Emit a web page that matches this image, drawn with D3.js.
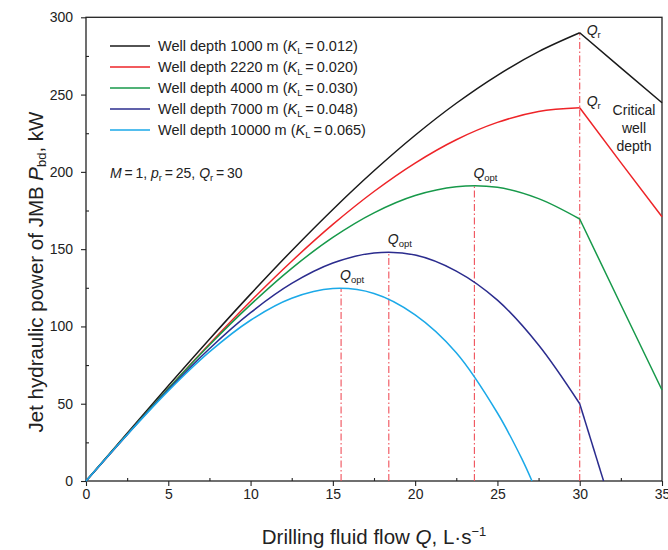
<!DOCTYPE html>
<html>
<head>
<meta charset="utf-8">
<script src="https://cdn.jsdelivr.net/npm/d3@7"></script>
<style>
  body { margin: 0; background: #fff; }
  svg { font-family: "Liberation Sans", Arial, sans-serif; }
</style>
</head>
<body>
<div id="chart"></div>
<script>
// values (Q in L/s, P in kW)
var flowGrid = [0, 2.5, 5, 7.5, 10, 12.5, 15, 17.5, 20, 22.5, 25, 27.5, 30];
var power1000 = [0, 30.9, 61.6, 91.7, 120.9, 149.0, 175.7, 200.7, 223.7, 244.4, 262.5, 277.8, 290.0];
var power2220 = [0, 30.1, 59.8, 88.7, 116.3, 142.2, 166.0, 187.3, 205.7, 220.8, 232.0, 239.1, 241.5];
var power4000 = [0, 30.2, 59.8, 88.0, 114.1, 137.6, 157.6, 173.5, 184.7, 190.4, 190.0, 182.7, 169.5];
var power7000 = [0, 30.0, 59.0, 85.6, 108.9, 127.8, 141.0, 147.5, 146.2, 135.8, 117.0, 88.0, 50.0];

var flowShallowest = [0, 2.5, 5, 7.5, 10, 12.5, 15, 17.5, 20, 22.5, 25, 26.5, 27.1];
var power10000 = [0, 29.9, 58.3, 83.5, 104.0, 118.2, 124.5, 121.3, 107.5, 83.0, 44.0, 14.0, 0];

// after the rated flow Q_r = 30
var flowTail = [30, 32.5, 35];
var tail1000 = [290.0, 267.3, 244.7];
var tail2220 = [241.5, 206.0, 171.0];
var tail4000 = [169.5, 114.0, 58.9];
var flowTail7000 = [30, 31.45];
var tail7000 = [50.0, 0];

var depths = ["1000", "2220", "4000", "7000", "10000"];
var kValues = ["0.012", "0.020", "0.030", "0.048", "0.065"];
var colors = ["#1a1a1a", "#ee2428", "#17994a", "#2b2c8e", "#1ba9e8"];

// optimum flows (4000, 7000, 10000 m) and their peak powers
var qOpt = [23.6, 18.4, 15.5];
var pOpt = [191.0, 148.0, 124.7];
var qRated = 30;
var pRated = 290.0;

var xTicks = [0, 5, 10, 15, 20, 25, 30, 35];
var yTicks = [0, 50, 100, 150, 200, 250, 300];

var width = 668, height = 550;
var svg = d3.select('#chart').append('svg')
  .attr('width', width)
  .attr('height', height);

var x = d3.scaleLinear().domain([0, 35]).range([86, 662]);
var y = d3.scaleLinear().domain([0, 300]).range([481, 17.3]);

function zip(a, b) {
  return a.map(function(v, i) { return [v, b[i]]; });
}

var series = [
  { body: zip(flowGrid, power1000), tail: zip(flowTail, tail1000) },
  { body: zip(flowGrid, power2220), tail: zip(flowTail, tail2220) },
  { body: zip(flowGrid, power4000), tail: zip(flowTail, tail4000) },
  { body: zip(flowGrid, power7000), tail: zip(flowTail7000, tail7000) },
  { body: zip(flowShallowest, power10000), tail: [] }
];

// axes: majors outside, minors inside
svg.append('g')
  .attr('transform', 'translate(0,' + y(0) + ')')
  .call(d3.axisBottom(x).tickValues(xTicks).tickSize(5).tickPadding(3).tickFormat(d3.format('d')));
svg.append('g')
  .attr('transform', 'translate(0,' + y(0) + ')')
  .call(d3.axisBottom(x).tickValues(d3.range(2.5, 35, 5)).tickSize(-3).tickFormat(''));
svg.append('g')
  .attr('transform', 'translate(' + x(0) + ',0)')
  .call(d3.axisLeft(y).tickValues(yTicks).tickSize(5).tickPadding(8));
svg.append('g')
  .attr('transform', 'translate(' + x(0) + ',0)')
  .call(d3.axisLeft(y).tickValues(d3.range(25, 300, 50)).tickSize(-3).tickFormat(''));

svg.selectAll('.domain').remove();
svg.selectAll('.tick line').attr('stroke', '#222').attr('stroke-width', 1.1);
svg.selectAll('.tick text').attr('font-size', 14).attr('fill', '#222')
  .attr('font-family', '"Liberation Sans", Arial, sans-serif');

svg.append('rect')
  .attr('x', x(0)).attr('y', y(300))
  .attr('width', x(35) - x(0)).attr('height', y(0) - y(300))
  .attr('fill', 'none').attr('stroke', '#222').attr('stroke-width', 1.3);

// dash-dot guides
var guide = svg.append('g')
  .attr('stroke', '#f0505a')
  .attr('stroke-width', 1.1)
  .attr('stroke-dasharray', '7,2.5,1.5,2.5');
qOpt.forEach(function(q, i) {
  guide.append('line')
    .attr('x1', x(q)).attr('x2', x(q))
    .attr('y1', y(0)).attr('y2', y(pOpt[i]));
});
guide.append('line')
  .attr('x1', x(qRated)).attr('x2', x(qRated))
  .attr('y1', y(0)).attr('y2', y(pRated));

var smooth = d3.line()
  .x(function(d) { return x(d[0]); })
  .y(function(d) { return y(d[1]); })
  .curve(d3.curveCatmullRom.alpha(0.5));
var straight = d3.line()
  .x(function(d) { return x(d[0]); })
  .y(function(d) { return y(d[1]); });

series.forEach(function(s, i) {
  svg.append('path')
    .attr('d', smooth(s.body))
    .attr('fill', 'none')
    .attr('stroke', colors[i])
    .attr('stroke-width', 1.5);
  if (s.tail.length) {
    svg.append('path')
      .attr('d', straight(s.tail))
      .attr('fill', 'none')
      .attr('stroke', colors[i])
      .attr('stroke-width', 1.5);
  }
});

// Q labels
function qLabel(px, py, sub) {
  var t = svg.append('text')
    .attr('x', px).attr('y', py)
    .attr('font-size', 14).attr('fill', '#222');
  t.append('tspan').attr('font-style', 'italic').text('Q');
  t.append('tspan').attr('font-size', 9.5).attr('dy', 3).text(sub);
}
qOpt.forEach(function(q, i) {
  qLabel(x(q) - 1, y(pOpt[i]) - 8, 'opt');
});
qLabel(x(qRated) + 7, y(pRated) + 2, 'r');
qLabel(x(qRated) + 7, y(power2220[power2220.length - 1]) - 2, 'r');

var crit = svg.append('text')
  .attr('font-size', 14).attr('fill', '#222')
  .attr('text-anchor', 'middle');
['Critical', 'well', 'depth'].forEach(function(w, i) {
  crit.append('tspan').attr('x', 634).attr('y', 115 + i * 18).text(w);
});

// legend
var legend = svg.append('g');
depths.forEach(function(dp, i) {
  var ry = 46 + i * 21;
  legend.append('line')
    .attr('x1', 110).attr('x2', 150)
    .attr('y1', ry).attr('y2', ry)
    .attr('stroke', colors[i]).attr('stroke-width', 1.5);
  var t = legend.append('text')
    .attr('x', 158).attr('y', ry + 5.3)
    .attr('font-size', 14.5).attr('fill', '#222');
  t.append('tspan').text('Well depth ' + dp + ' m (');
  t.append('tspan').attr('font-style', 'italic').text('K');
  t.append('tspan').attr('font-size', 9.5).attr('dy', 3).text('L');
  t.append('tspan').attr('dy', -3).text('\u2009=\u20090' + kValues[i].slice(1) + ')');
});

var params = svg.append('text')
  .attr('x', 110).attr('y', 178)
  .attr('font-size', 14).attr('fill', '#222');
params.append('tspan').attr('font-style', 'italic').text('M');
params.append('tspan').text('\u2009=\u20091, ');
params.append('tspan').attr('font-style', 'italic').text('p');
params.append('tspan').attr('font-size', 9.5).attr('dy', 3).text('r');
params.append('tspan').attr('dy', -3).text('\u2009=\u200925, ');
params.append('tspan').attr('font-style', 'italic').text('Q');
params.append('tspan').attr('font-size', 9.5).attr('dy', 3).text('r');
params.append('tspan').attr('dy', -3).text('\u2009=\u200930');

// axis titles
var xTitle = svg.append('text')
  .attr('x', (x(0) + x(35)) / 2).attr('y', 544)
  .attr('text-anchor', 'middle')
  .attr('font-size', 20.5).attr('fill', '#222');
xTitle.append('tspan').text('Drilling fluid flow ');
xTitle.append('tspan').attr('font-style', 'italic').text('Q');
xTitle.append('tspan').text(', L\u00b7s');
xTitle.append('tspan').attr('font-size', 13).attr('dy', -8).text('\u22121');

var yTitle = svg.append('text')
  .attr('transform', 'translate(43,272) rotate(-90)')
  .attr('text-anchor', 'middle')
  .attr('font-size', 20.5).attr('fill', '#222');
yTitle.append('tspan').text('Jet hydraulic power of JMB ');
yTitle.append('tspan').attr('font-style', 'italic').text('P');
yTitle.append('tspan').attr('font-size', 13).attr('dy', 3).text('bd');
yTitle.append('tspan').attr('dy', -3).text(', kW');
</script>
</body>
</html>
